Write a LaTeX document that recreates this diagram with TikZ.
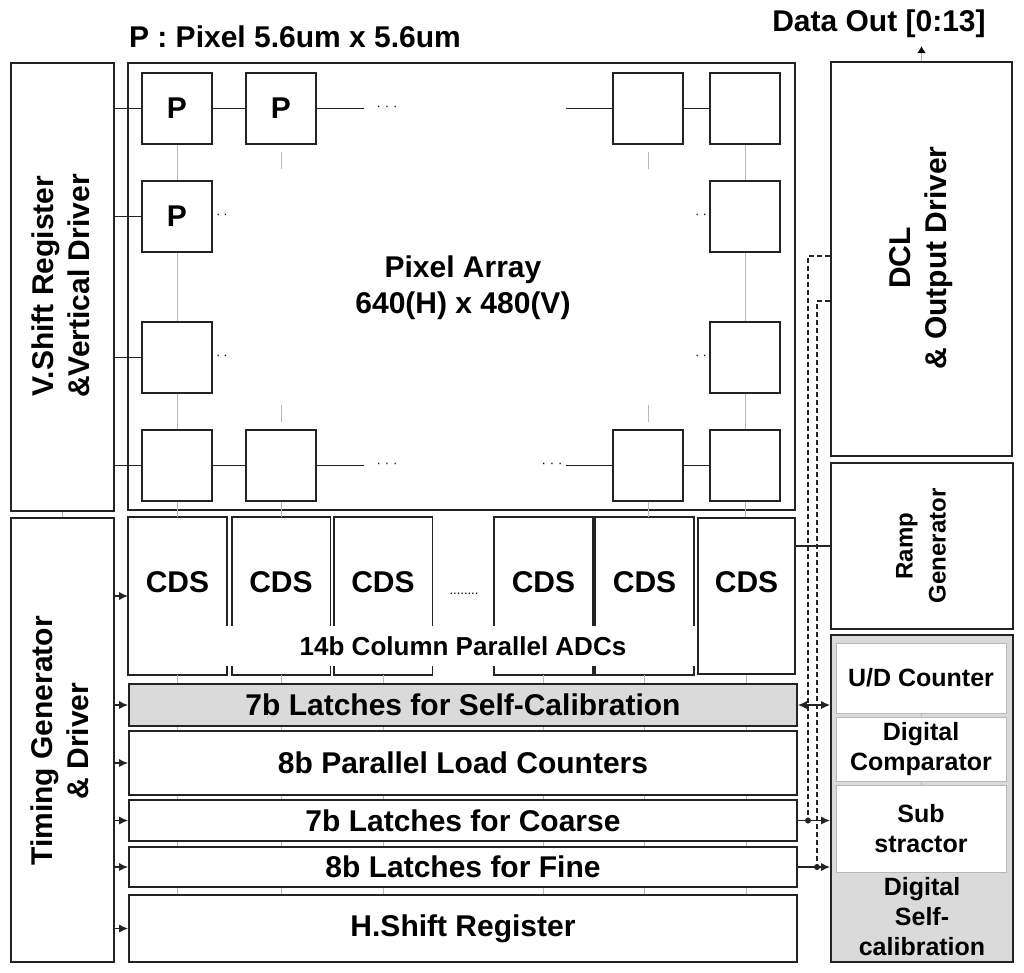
\documentclass[tikz,border=0pt]{standalone}
\usepackage{fontspec}
\setmainfont{Liberation Sans}
\usetikzlibrary{arrows.meta,calc,positioning}
\definecolor{linegray}{RGB}{35,35,35}
\definecolor{tickgray}{RGB}{185,185,185}
\definecolor{shade}{RGB}{218,218,218}
\newcommand{\blockfont}{\fontsize{30}{36}\selectfont\bfseries}
\newcommand{\adcfont}{\fontsize{26}{31}\selectfont\bfseries}
\newcommand{\calfont}{\fontsize{25}{30}\selectfont\bfseries}
\tikzset{
  box/.style={
    rectangle, draw=linegray, fill=white, line width=1.6pt,
    align=center, font=\blockfont, inner sep=0pt
  },
  pixel/.style={box, minimum width=70pt, minimum height=71pt},
  rowbox/.style={box, minimum width=668pt},
  cdsbox/.style={box, minimum width=97pt, text height=74pt, text depth=82pt},
  cdsopen/.style={cdsbox, draw=none, fill=none},
  boxline/.style={line width=1.6pt, draw=linegray},
  innerbox/.style={
    rectangle, draw=black!28, fill=white, line width=1pt,
    minimum width=170pt, align=center, font=\calfont, inner sep=0pt
  },
  vlabel/.style={rotate=90, align=center, font=\blockfont},
  wire/.style={line width=1.4pt, draw=linegray},
  tick/.style={line width=1pt, draw=tickgray},
  dashedwire/.style={wire, line width=1.2pt, dash pattern=on 5pt off 3pt},
  arrow/.style={wire, -{Latex[length=9pt,width=8pt]}},
  dblarrow/.style={wire, {Latex[length=9pt,width=8pt]}-{Latex[length=9pt,width=8pt]}},
  outarrow/.style={tick, line width=1.2pt, -{Latex[length=7pt,width=9pt,color=black]}},
  dots/.style={font=\fontsize{13}{13}\selectfont, inner sep=0pt}
}

\begin{document}
\begin{tikzpicture}[x=1pt,y=-1pt]
  \useasboundingbox (0,0) rectangle (1024,973);

  \node[font=\blockfont] (title) at (295,37) {P : Pixel 5.6um x 5.6um};
  \node[font=\blockfont] (dataout) at (879,24) {Data Out [0:13]};

  \node[box, minimum width=103pt, minimum height=448pt] (vshift) at (62.5,287) {};
  \node[vlabel] (vshiftlbl) at (61,286) {V.Shift Register\\\&Vertical Driver};
  \node[box, minimum width=667pt, minimum height=447pt] (array) at (461.5,286.5) {};
  \node[font=\blockfont, align=center] (arraylbl) at (463,288) {Pixel Array\\640(H) x 480(V)};

  \node[pixel] (p11) at (177,108.5) {P};
  \node[pixel] (p12) at (281,108.5) {P};
  \node[pixel] (p13) at (648,108.5) {};
  \node[pixel] (p14) at (745,108.5) {};
  \node[pixel] (p21) at (177,216.5) {P};
  \node[pixel] (p24) at (745,216.5) {};
  \node[pixel] (p31) at (177,357.5) {};
  \node[pixel] (p34) at (745,357.5) {};
  \node[pixel] (p41) at (177,465.5) {};
  \node[pixel] (p42) at (281,465.5) {};
  \node[pixel] (p43) at (648,465.5) {};
  \node[pixel] (p44) at (745,465.5) {};

  \node[dots] (dots1a) at (387,108.5) {·\hspace{4pt}·\hspace{4pt}·};
  \node[dots] (dots4a) at (387,465.5) {·\hspace{4pt}·\hspace{4pt}·};
  \node[dots] (dots4b) at (552,465.5) {·\hspace{4pt}·\hspace{4pt}·};
  \node[dots] (dots2a) at (222,216.5) {·\hspace{3pt}·};
  \node[dots] (dots2b) at (701,216.5) {·\hspace{3pt}·};
  \node[dots] (dots3a) at (222,357.5) {·\hspace{3pt}·};
  \node[dots] (dots3b) at (701,357.5) {·\hspace{3pt}·};

  \draw[wire] (vshift.east |- p11) -- (p11.west);
  \draw[wire] (vshift.east |- p21) -- (p21.west);
  \draw[wire] (vshift.east |- p31) -- (p31.west);
  \draw[wire] (vshift.east |- p41) -- (p41.west);
  \draw[wire] (p11.east) -- (p12.west);
  \draw[wire] (p12.east) -- ++(47,0);
  \draw[wire] (p13.west) -- ++(-46,0);
  \draw[wire] (p13.east) -- (p14.west);
  \draw[wire] (p41.east) -- (p42.west);
  \draw[wire] (p42.east) -- ++(47,0);
  \draw[wire] (p43.west) -- ++(-46,0);
  \draw[wire] (p43.east) -- (p44.west);

  \draw[tick] (p11.south) -- (p21.north);
  \draw[tick] (p21.south) -- (p31.north);
  \draw[tick] (p31.south) -- (p41.north);
  \draw[tick] (p14.south) -- (p24.north);
  \draw[tick] (p24.south) -- (p34.north);
  \draw[tick] (p34.south) -- (p44.north);
  \draw[tick] ([yshift=-7pt]p12.south) -- ++(0,17);
  \draw[tick] ([yshift=-7pt]p13.south) -- ++(0,17);
  \draw[tick] ([yshift=7pt]p42.north) -- ++(0,-17);
  \draw[tick] ([yshift=7pt]p43.north) -- ++(0,-17);

  % column parallel ADCs
  \node[cdsopen] (cds1) at (177.5,596) {CDS};
  \node[cdsopen] (cds2) at (281,596) {CDS};
  \node[cdsopen] (cds3) at (383,596) {CDS};
  \node[cdsopen] (cds4) at (543.5,596) {CDS};
  \node[cdsopen] (cds5) at (644.5,596) {CDS};
  \node[cdsbox] (cds6) at (746.5,596) {CDS};
  \foreach \i in {1,...,5}{
    \draw[boxline] ([yshift=-30pt]cds\i.west) |- (cds\i.north east) -- ([yshift=-30pt]cds\i.east);
    \draw[boxline] ([yshift=-70pt]cds\i.west) |- (cds\i.south east) -- ([yshift=-70pt]cds\i.east);
  }
  \draw[boxline] (cds1.north west) -- (cds1.south west);
  \node[dots] (cdsdots) at (464,594) {........};
  \node[font=\adcfont] (adclbl) at (463,646) {14b Column Parallel ADCs};

  \draw[tick] (p41.south) -- (p41.south |- cds1.north);
  \draw[tick] (p42.south) -- (p42.south |- cds2.north);
  \draw[tick] (p43.south) -- (p43.south |- cds5.north);
  \draw[tick] (p44.south) -- (p44.south |- cds6.north);

  \node[rowbox, fill=shade, minimum height=42pt] (latchsc) at (463,705) {7b Latches for Self-Calibration};
  \node[rowbox, minimum height=64pt] (counters) at (463,763) {8b Parallel Load Counters};
  \node[rowbox, minimum height=41pt] (coarse) at (463,820.5) {7b Latches for Coarse};
  \node[rowbox, minimum height=40pt] (fine) at (463,867) {8b Latches for Fine};
  \node[rowbox, minimum height=67pt] (hshift) at (463,928.5) {H.Shift Register};

  \foreach \i in {1,...,6}{
    \foreach \a/\b in {cds\i/latchsc, latchsc/counters, counters/coarse, coarse/fine, fine/hshift}
      \draw[tick] (cds\i.south |- \a.south) -- (cds\i.south |- \b.north);
  }

  \node[box, minimum width=103pt, minimum height=444pt] (timing) at (62.5,740) {};
  \node[vlabel] (timinglbl) at (60,741) {Timing Generator\\\& Driver};
  \draw[tick] (vshift.south) -- (timing.north);

  \node[box, minimum width=181pt, minimum height=394pt] (dcl) at (921.5,259) {};
  \node[vlabel] (dcllbl) at (921,258) {DCL\\\& Output Driver};
  \node[box, minimum width=182pt, minimum height=166pt] (ramp) at (922,546) {};
  \node[vlabel, font=\fontsize{24}{33}\selectfont\bfseries] (ramplbl) at (921,546) {Ramp\\Generator};
  \node[box, fill=shade, minimum width=182pt, minimum height=327pt] (dsc) at (922,798.5) {};
  \node[innerbox, minimum height=70pt] (udc) at (921,678) {U/D Counter};
  \node[innerbox, minimum height=64pt] (dcomp) at (921,749) {Digital\\Comparator};
  \node[innerbox, minimum height=87pt] (subs) at (921,828.5) {Sub\\stractor};
  \node[font=\calfont, align=center] (dsclbl) at (922,917) {Digital\\Self-\\calibration};
  \draw[tick] (udc.south) -- (dcomp.north);
  \draw[tick] (dcomp.south) -- (subs.north);

  \draw[arrow] (timing.east |- cds1) -- (cds1.west);
  \draw[arrow] (timing.east |- latchsc) -- (latchsc.west);
  \draw[arrow] (timing.east |- counters) -- (counters.west);
  \draw[arrow] (timing.east |- coarse) -- (coarse.west);
  \draw[arrow] (timing.east |- fine) -- (fine.west);
  \draw[arrow] (timing.east |- hshift) -- (hshift.west);

  \draw[wire] (cds6.east |- ramp) -- (ramp.west);
  \coordinate (bus1) at (808,0);
  \coordinate (bus2) at (817,0);
  \draw[dashedwire] ([yshift=3pt]dcl.west) -| (bus1 |- coarse.east);
  \draw[dashedwire] ([yshift=-42pt]dcl.west) -| (bus2 |- fine.east);
  \draw[dblarrow] (latchsc.east) -- (latchsc.east -| dsc.west);
  \draw[arrow] (coarse.east) -- (coarse.east -| dsc.west);
  \draw[arrow] (fine.east) -- (fine.east -| dsc.west);
  \fill[linegray] (bus1 |- coarse.east) circle (3pt);
  \fill[linegray] (bus2 |- fine.east) circle (3pt);
  \draw[outarrow] (dcl.north) -- ++(0,-15);
\end{tikzpicture}
\end{document}
